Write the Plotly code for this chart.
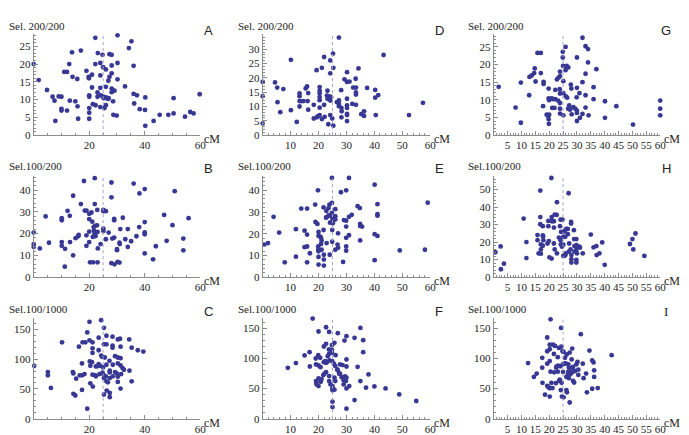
import plotly.graph_objects as go

# ---------------- data (cM position, selection statistic) ----------------
A_x = [0,1.8,4.8,6.8,7.5,7.8,9,10,10,10,11,12,12,12.8,13,13.8,14,15,15.7,15.8,16,17,19,19.8,19.9,20,20,20,20,20,21,21,21.3,22.2,22.2,22.3,23.1,23,23,24,24,24,24.2,24,24.8,25,25.1,25.2,25.5,26,26,26,26,26.3,26.8,26.9,27,27.3,27.3,28.1,28.1,28.1,28.1,28.1,28.6,28.7,29.1,29.9,30.2,30.2,30.2,32.9,34.3,35.2,36,36,37.2,36.2,38.2,40.2,40.1,40.2,43.2,45.4,48.5,50.4,50.4,54.5,56.4,57.6,59.8]
A_y = [20,15.5,12.7,10.8,9.7,4.0,10.9,10.8,7.4,6.9,17.8,17.8,6.9,20,9.7,23.3,16.4,9.5,15.8,8.1,4.6,23.8,18.1,16.4,16,11.2,10.8,7.6,6.3,4.6,17,13.4,8.7,27.4,20,8.4,23.1,12,10.8,20.3,16.8,13.3,11.2,7.9,22.6,19.1,10.8,10.4,7.6,18.5,13.6,10.6,8.4,10.4,10.2,15.3,10.4,22.8,16.4,22.6,19.6,17.4,13.1,12.1,9.5,5.7,12.5,5.5,28.1,20.3,15.7,13.7,24.5,26.4,19.5,11.6,11.2,8.9,7.3,10.6,7.1,2.6,4.0,5.7,5.7,10.4,6.1,5.2,6.5,6.1,11.5]

D_x = [0,0,0,4.4,5.2,5.3,6.3,7.4,10.1,10.1,12.2,13.2,13.2,13.2,13.2,13.8,14.6,15.4,15.9,16.3,16.1,16.3,18.3,18.3,19.3,19.4,19.7,20.4,20.4,20.4,20.4,20.4,20.4,20.4,21.2,21.2,22,22,22.2,23,23.2,23.2,23.5,24,24.2,24.2,24.2,24.2,24.5,24.9,25.2,25.3,25.3,27.3,27.3,27.3,27.3,26.6,28.1,28.2,28.3,28.2,29.3,30.2,30.2,30.2,30.2,30.2,30.2,30.2,30.2,31.1,32.1,32.4,33.3,33.4,33.4,33.4,33.4,34.3,35.3,36.3,36.3,37.4,40.3,40.3,40.5,41.4,43.3,52.4,57.4]
D_y = [18.6,13.6,4.1,18.4,16.6,11.5,8.0,16.1,26.3,8.7,4.6,14.6,13.6,11.9,10,11.9,11.9,16.3,17,14.7,11.9,8.9,10.6,5.8,22.7,6.2,6.5,16.8,15.5,14.6,13.3,12.2,9.6,7,23.5,5.6,27.3,10.6,6.4,13.8,15.5,12.7,3.8,13.5,26.1,21.6,12.1,7,13.2,5.8,28.5,23.5,3.3,34.1,12.1,10.9,10.1,11.5,15.7,9.5,8.3,6.2,19.5,22,18.6,12.7,10.4,9.5,7.4,7,4.9,18.7,10.9,16.6,19.7,16.6,14.9,14.2,10.6,23.3,7.3,8.3,6.7,16.5,15.8,13.1,7,14,28,7,11.3]

G_x = [1.8,7.9,9.8,9.8,12.8,12.9,13.7,14.6,14.8,15.1,15.8,17,17,17.8,18,18,19.8,19.8,19.1,19.6,20,19.8,19.9,20,20.9,21.1,21.5,21.9,22.2,22.2,22.8,23.2,23.4,23.8,23.9,23.9,23.9,23.9,23.9,23.9,24.9,24.9,25,25.1,25.1,25.1,25.9,25.9,26,26.3,26.5,26.9,26.8,27.2,27.5,27.8,28,28.1,28.7,29.4,29.9,30,30,30,30,30,30.9,31.1,32,32,32,33.1,33.1,33.1,33.1,34,34,34.2,36,36,37,40.1,40.1,44.2,50.2,60,60,60]
G_y = [13.7,7.8,14.9,3.5,11.3,16.5,16.9,17.6,18.9,15.2,23.3,23.3,17.6,8.2,15.1,14.5,13.2,10.4,5.8,5.4,5.8,4.5,3.2,9.9,10.4,7.7,10.2,7.7,12.8,10.2,15.8,9.8,16.3,13,18,16.7,11.8,9.1,7.5,6.1,23.6,22,19.6,15.3,11.9,5.6,25,18.4,11,19.6,10.6,19.2,7.5,8.4,7.2,14.3,13.2,5.9,7.9,7.5,10.7,22,13.4,6.9,6.3,4,11.9,4.9,27.6,15,6,25.2,17.4,11.3,7.8,24.4,20.6,5.6,13.6,10.2,18.7,9.6,4.9,8.2,3,9.8,7.5,5.6]

B_x = [0,0,0,2.2,4.3,5.5,10.1,10.1,10.1,10.1,11.2,11.3,12.2,13,13.1,14.2,14.2,15.1,16,16.2,17,18.1,18.4,19,19,19,20,20,20,20,20.3,20.8,21.1,21.3,21.4,21.6,21.7,21.9,22,22,22.1,22.3,22.8,22.9,23,23.1,23,24.1,25.1,25.1,25.1,25.1,26,26,27,28,28,28,28.3,29,29,29,29.1,30,30,30.2,30.9,31,31.2,30.9,32.1,33,33.9,33.9,35.1,36,37,38,38.1,40,40,40,40,40,43,44,47,47.9,50,50.8,53.9,53.9,55.8]
B_y = [20.5,15.2,13.9,13.2,27.9,15.8,27.1,26.1,16.1,14.4,4.8,13,30.5,28.2,16.1,37.4,10,17.9,18.8,19.4,33.6,44.2,30.6,30.6,14.4,19.2,26.7,29.1,20.9,16.1,6.8,29.7,25.5,18.5,6.8,23,21.4,20,33.6,45.5,23.6,18.9,23.8,30.9,6.8,13.2,20.8,15.2,30.9,22.3,21.2,30.3,30.3,17.4,20.5,43.5,36.7,6.4,17.7,26.8,26.1,18.2,5.9,12.4,12.9,7,15.8,15.2,22.1,6.7,27.3,17.4,22.1,13.9,16.5,43,18.8,23,38.5,40.5,25.3,20.6,19.7,10.9,8.2,14.2,28.6,16.7,23.9,39.5,17.7,12.3,27.1]

E_x = [0.6,1.9,3.9,5.9,7.9,11.9,11.9,13.8,15,15,15.9,15.9,15.9,15.9,16.9,18.8,18.9,19.6,19.8,20,20,19.9,19.9,20,20,20,20.6,20.9,20.9,21.1,21.1,21.8,21.8,21.9,21.9,21.9,22.7,22.8,22.9,22.9,23.6,23.6,24,23.9,24.1,24.4,24.8,24.8,24.8,24.9,24.9,24.9,24.9,25.1,25.5,26,26,26,26,26.8,27,27,28,28.8,29.1,29.9,29.9,29.9,29.9,29.9,29.9,30.9,30.9,30.9,31.9,34,34.8,34.9,34.9,34.9,35.6,40.1,40.1,40.1,41.1,41.1,41.1,41.1,49.1,58.1,59.1]
E_y = [15,15.7,27.8,20.5,6.8,9.4,22.1,31.6,21.4,13.8,14.1,19.6,6.8,31.6,11,33.4,25.4,24.5,40,20.8,19,14.1,12.6,11.9,5.8,9.3,18.7,18.1,15.3,16.9,12.6,21.7,32.1,10.3,8.1,5.3,27.4,30.5,15.7,27.6,31.8,28.4,10.3,33.4,25.1,28.3,45.7,34.2,29.6,27.4,25.7,21.7,16.3,24.8,26.3,31.3,28.1,26.6,12.6,15,13.5,20.2,39.1,7,26.3,40,26,23.3,18.1,14.1,12.2,45.7,27.8,19.3,28.7,32.7,31.8,24.5,23.6,16.9,23.3,42.6,19.8,7.8,19,33.6,29,28.3,12.3,12.6,34.3]

H_x = [0.6,2.5,2.6,3.7,10.8,11.8,11.8,15.8,15.8,16.2,16.8,16.8,16.8,17,17,17,17.7,17.7,17.7,17.8,17.9,19.4,19.7,19.7,19.9,20.1,20.8,20.9,21,20.9,21.7,21.7,22,21.7,22,22.7,22.8,22.8,23.5,23.9,24.1,24.1,24.2,24.3,24.6,24.8,25.1,25.1,25.1,25.1,25.3,25.6,25.8,25.8,26,26.2,26.7,26.7,27,27.1,27.2,27.7,27.9,27.9,28,28,28,28.9,29,29.1,29.1,29.8,29.8,29.8,29.8,29.8,29.8,30,30.9,31.1,32.1,35,36,37,37.1,38.1,39.1,40,49.1,50,50.3,51.1,54.3]
H_y = [14.2,17.5,4.5,7.7,33.4,20,10.9,24,21.1,13.6,49.4,34.3,30.2,18.7,15.8,13.4,29.1,23.8,17.9,23.2,21.1,19.2,29.1,32.1,20.6,11.3,56.6,34.3,31.9,10.6,31.9,28.3,35.7,19.2,15.8,35.5,42.8,13.6,22.6,29.1,32.8,21.1,18.7,25.8,17.4,32.8,25.7,23,18.5,12.1,12.1,26.4,23,12.5,13.6,27.5,27.5,24.5,47.9,14.5,19.2,15.8,31.5,30.6,12.6,10.2,8.3,26.8,21.7,17.7,14.5,21.7,18.3,17.4,15.5,9.8,8.3,13.6,17.4,16.8,13.6,24.3,17,17.7,12.6,13.6,19.8,7,18.9,21.7,15.8,24.9,12.1]

C_x = [0.2,5.1,5.1,6.2,10.2,14.1,14.3,14.3,15,15.3,16.3,16.6,17.4,17.6,17.4,17.4,18.3,18.6,19.3,19.3,20.1,20.1,20.2,20.4,20.4,21,21.2,21.2,21.2,21.2,21.3,22.2,22.4,22.4,23,23.4,23.4,23.4,23.7,24,24.3,24.3,24.6,24.8,25,25.3,25.3,25.3,25.3,25.3,25.6,26,26.2,26.2,26.2,26.2,26.3,26.7,27.3,27.4,27.4,27.4,27.4,27.4,28.4,28.4,28.4,28.5,28.5,29.3,29.3,29.9,30.3,30.3,30.3,30.3,30.3,31.1,31.3,31.3,31.3,31.3,31.5,32,32.5,34.4,34.5,35.3,35.3,37.5,39.5]
C_y = [88.9,78.3,72.8,51.7,128.3,78.3,76.1,41.7,38.9,67.2,121.1,72.8,72.8,128.3,92.8,48.3,75,128.3,145,16.7,162.8,131.7,96.1,88.9,59.4,95,128.3,118.3,110.6,73.9,53.9,72.8,87.8,71.1,88.3,136.1,115,91.7,75,88.9,165.6,106.1,103.9,77.2,86.1,152.8,125,72.8,68.3,40.6,102.8,71.1,139.4,125,90.6,62.8,47.2,61.1,97.2,80.6,77.8,68.3,43.3,36.1,137.8,122.8,119.4,90.6,71.1,105,78.3,76.1,133.3,102.8,92.8,70.6,61.7,134.4,121.1,101.7,89.4,50.6,75,85,82.2,133.3,80.6,119.4,62.8,115,112.8]

F_x = [9,11.9,15,16.8,16.9,17.9,19,19.1,19.1,19.2,19.3,20,19.9,20,20,20,20.6,20.7,20.8,21.1,21.7,21.9,21.9,22.1,22.4,22.7,22.7,22.7,22.7,23,23.3,23.8,23.7,23.8,23.8,23.8,23.9,24.3,24.8,24.8,24.8,24.9,25,25,25,25,25,25.5,25.7,25.7,25.7,26,26,26.1,26.7,26.9,26.9,27.4,27.7,27.7,28.3,28.6,28.9,29,29.3,29.5,29.8,30,30,30,30,30,30,31,32.9,32.9,34,35,35,36,36,37,37.9,40,44,48.9,55]
F_y = [84.5,92.3,105,110.5,86.7,166.3,100,90.1,62.4,59.7,56.9,144.8,105.5,88.4,66.9,54.1,101.1,85.6,61.3,65.7,72.4,119.9,93.9,74.6,95.6,151.9,124.3,77.3,92.8,93.9,103.9,144.2,114.9,107.7,70.7,62.4,96.7,56.9,122.1,114.4,109.4,95.6,54.1,50.3,47,28.2,19.3,91.2,126,68,48.1,87.3,62.4,105.5,81.8,142,80.1,74.6,90.1,74.6,69,89,64.1,56.9,129.8,70.1,62.4,137,98.3,86.7,68,50.3,16.6,54.1,134.3,30.9,86.2,150.8,62.4,130.4,110.5,51.4,73.5,53.6,50.3,40.3,29.3]

I_x = [12.4,14.5,15.5,17.5,17.5,17.6,18.5,19.3,19.3,19.3,19.3,19.6,20,20.2,20.2,20.2,20.2,20.5,20.5,20.5,20.8,21.2,21.4,21.7,21.8,22.1,22.4,22.5,22.7,23.1,23.1,23.2,23.5,23.6,23.8,24,24.2,24.3,24.4,24.5,24.6,24.8,24.9,25,25.2,25.2,25.5,25.7,26.1,26.2,26.2,26.3,26.4,26.7,26.9,26.9,27.1,27.1,27.4,27.4,27.6,27.9,28.1,28.3,28.3,28.6,28.6,29,29.3,29.8,30.2,30.5,30.5,31.4,32.1,32.4,33.3,33.6,34.5,35.5,35.5,36,36.2,36.2,37.5,42.5]
I_y = [92.3,69.4,74.9,101,84.7,59.6,39.9,134.9,112,91.3,54.6,53,50.8,122.9,115.3,95.6,36.6,165,78.1,50.8,59.6,50.8,122.9,107.6,77,120.8,59,84.7,86.9,102.2,78.1,88,117.5,62.8,65,86.9,47.5,150.8,119.7,59.6,36.6,112,90.2,77.6,110.9,35.5,91.8,101,91.3,69.4,47.5,106.6,43.7,72.7,90.2,78.1,84.7,67.2,109.8,26.8,73.8,83.6,98.4,116.4,77,85.8,62.8,60.1,79.2,90.2,94.5,81.4,72.7,140.4,91.3,67.2,74.9,43.7,113.1,96.7,49.7,93.4,80.3,69.4,50.8,105.5]

TITLES = {"A": "Sel. 200/200", "D": "Sel. 200/200", "G": "Sel. 200/200",
          "B": "Sel.100/200", "E": "Sel.100/200", "H": "Sel.100/200",
          "C": "Sel.100/1000", "F": "Sel.100/1000", "I": "Sel.100/1000"}
X_TICKS = [[20, 40, 60], [10, 20, 30, 40, 50, 60], list(range(5, 61, 5))]
Y_TICKS = {"A": [0, 5, 10, 15, 20, 25], "D": [0, 5, 10, 15, 20, 25, 30], "G": [0, 5, 10, 15, 20, 25],
           "B": [0, 10, 20, 30, 40], "E": [0, 10, 20, 30, 40], "H": [0, 10, 20, 30, 40, 50],
           "C": [0, 50, 100, 150], "F": [0, 50, 100, 150], "I": [0, 50, 100, 150]}
Y_TOP = {"A": 28.6, "D": 35.5, "G": 28.8, "B": 46.7, "E": 46.8, "H": 58,
         "C": 170, "F": 168, "I": 168}
DATA = {"A": (A_x, A_y), "B": (B_x, B_y), "C": (C_x, C_y),
        "D": (D_x, D_y), "E": (E_x, E_y), "F": (F_x, F_y),
        "G": (G_x, G_y), "H": (H_x, H_y), "I": (I_x, I_y)}
GRID = [["A", "D", "G"], ["B", "E", "H"], ["C", "F", "I"]]

# ---------------- layout geometry (pixels -> paper) ----------------
W, H = 689, 435
COL_PX = [(34, 202), (265, 434), (498, 666)]
ROW_PX = [(137, 34), (281, 178), (424.5, 322)]   # (bottom, top)
TITLE_X = [7, 238, 470]
TITLE_Y = [26, 168, 313]
LETTER_X = [210, 443, 672]
LETTER_Y = [31, 171, 316]

MARK = "#383894"
AXC = "#8c8c8c"
SERIF = "Liberation Serif"

fig = go.Figure()
layout = dict(width=W, height=H, margin=dict(l=0, r=0, t=0, b=0),
              paper_bgcolor="white", plot_bgcolor="white", showlegend=False)
shapes, annotations = [], []

k = 0
for r in range(3):
    for c in range(3):
        k += 1
        key = GRID[r][c]
        xs, ys = DATA[key]
        xn = "x" if k == 1 else f"x{k}"
        yn = "y" if k == 1 else f"y{k}"
        fig.add_trace(go.Scatter(x=xs, y=ys, mode="markers", xaxis=xn, yaxis=yn,
                                 marker=dict(color=MARK, size=4.8), cliponaxis=False,
                                 hoverinfo="skip"))
        x0, x1 = COL_PX[c]
        yb, yt = ROW_PX[r]
        xt = X_TICKS[c]
        minor_x = [v for v in range(0, 61, 5 if c == 0 else (2 if c == 1 else 1)) if v not in xt and v != 0]
        ystep = Y_TICKS[key][1] - Y_TICKS[key][0]
        yminor_step = ystep / 5
        minor_y = []
        v = yminor_step
        while v < Y_TOP[key]:
            if abs(v / ystep - round(v / ystep)) > 1e-6:
                minor_y.append(round(v, 4))
            v += yminor_step
        layout["xaxis" if k == 1 else f"xaxis{k}"] = dict(
            domain=[x0 / W, x1 / W], range=[0, 60], anchor=yn,
            showline=True, linecolor=AXC, linewidth=1, zeroline=False, showgrid=False,
            tickmode="array", tickvals=xt, ticks="inside", ticklen=4, tickcolor=AXC,
            tickfont=dict(family=SERIF, size=11, color="#222"),
            minor=dict(tickmode="array", tickvals=minor_x, ticks="inside", ticklen=2, tickcolor=AXC),
            fixedrange=True)
        layout["yaxis" if k == 1 else f"yaxis{k}"] = dict(
            domain=[1 - yb / H, 1 - yt / H], range=[0, Y_TOP[key]], anchor=xn,
            showline=True, linecolor=AXC, linewidth=1, zeroline=False, showgrid=False,
            tickmode="array", tickvals=Y_TICKS[key], ticks="inside", ticklen=4, tickcolor=AXC,
            tickfont=dict(family=SERIF, size=11, color="#222"),
            minor=dict(tickmode="array", tickvals=minor_y, ticks="inside", ticklen=2, tickcolor=AXC),
            fixedrange=True)
        # dotted reference line at 25 cM
        shapes.append(dict(type="line", xref=xn, yref=f"{yn} domain", x0=25, x1=25, y0=0, y1=1,
                           line=dict(color="#a0a0c8", width=1, dash="dot")))
        # cM label
        annotations.append(dict(xref=f"{xn} domain", yref=f"{yn} domain", x=1, y=0,
                                xanchor="left", yanchor="middle", xshift=2, yshift=-4,
                                text="cM", showarrow=False,
                                font=dict(family=SERIF, size=12, color="#222")))
        # panel title
        annotations.append(dict(xref="paper", yref="paper", x=TITLE_X[c] / W, y=1 - TITLE_Y[r] / H,
                                xanchor="left", yanchor="middle", text=TITLES[key], showarrow=False,
                                font=dict(family=SERIF, size=11, color="#222")))
        # panel letter
        annotations.append(dict(xref="paper", yref="paper", x=LETTER_X[c] / W, y=1 - LETTER_Y[r] / H,
                                xanchor="center", yanchor="middle", text=key, showarrow=False,
                                font=dict(family=SERIF if key == "I" else "Liberation Sans",
                                          size=13, color="#222")))

layout["shapes"] = shapes
layout["annotations"] = annotations
fig.update_layout(**layout)
fig.write_html("out.html")
